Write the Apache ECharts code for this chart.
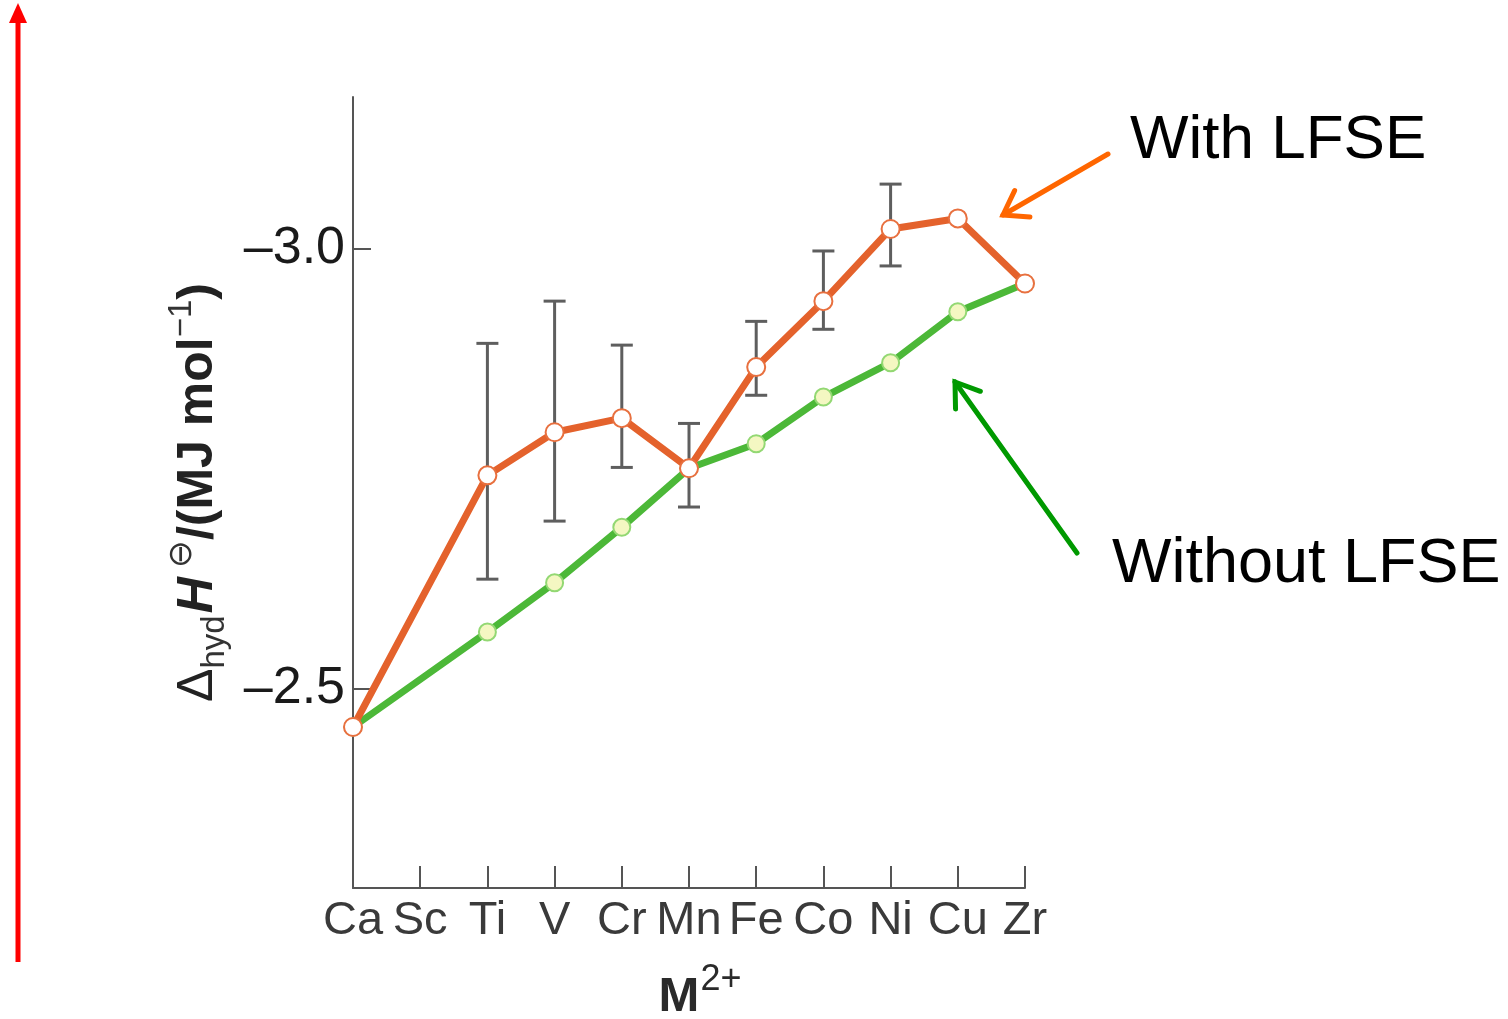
<!DOCTYPE html>
<html>
<head>
<meta charset="utf-8">
<script src="https://cdn.jsdelivr.net/npm/echarts@6/dist/echarts.min.js"></script>
<style>
html,body{margin:0;padding:0;background:#fff;}
#c{width:1508px;height:1019px;}
</style>
</head>
<body>
<div id="c"></div>
<script>
var categories = ['Ca','Sc','Ti','V','Cr','Mn','Fe','Co','Ni','Cu','Zr'];
var withLFSE = [-2.456, null, -2.742, -2.791, -2.807, -2.750, -2.865, -2.940, -3.022, -3.034, -2.960];
var withoutLFSE = [-2.456, null, -2.564, -2.620, -2.683, -2.750, -2.778, -2.831, -2.870, -2.928, -2.960];
var errLow = [null, null, -2.892, -2.940, -2.890, -2.801, -2.917, -2.997, -3.073, null, null];
var errHigh = [null, null, -2.624, -2.690, -2.751, -2.706, -2.833, -2.908, -2.980, null, null];
var yTicks = [-3.0, -2.5];
var yMin = -3.172, yMax = -2.273;

var errData = [];
for (var i = 0; i < categories.length; i++) {
  if (errLow[i] != null) errData.push([i, errLow[i], errHigh[i]]);
}

var chart = echarts.init(document.getElementById('c'));
var FONT = '"Liberation Sans", Arial, sans-serif';

function arrowLines(x1, y1, x2, y2, color, headLen, w) {
  var ang = Math.atan2(y2 - y1, x2 - x1);
  var a1 = ang + Math.PI - 0.6, a2 = ang + Math.PI + 0.6;
  var s = {stroke: color, lineWidth: w, lineCap: 'round'};
  return [
    {type: 'line', shape: {x1: x1, y1: y1, x2: x2, y2: y2}, style: s},
    {type: 'polyline', shape: {points: [[x2 + headLen * Math.cos(a1), y2 + headLen * Math.sin(a1)], [x2, y2], [x2 + headLen * Math.cos(a2), y2 + headLen * Math.sin(a2)]]}, style: {stroke: color, lineWidth: w, lineCap: 'round', lineJoin: 'miter', fill: null}}
  ];
}

var graphics = [];
graphics = graphics.concat(arrowLines(1108, 154, 1003, 215, '#ff6600', 27, 5));
graphics = graphics.concat(arrowLines(1077, 553, 955, 382, '#009900', 27, 5));
graphics.push({type: 'rect', shape: {x: 15.5, y: 20, width: 5, height: 942}, style: {fill: '#ff0000'}});
graphics.push({type: 'polygon', shape: {points: [[18, 3], [9, 23], [27, 23]]}, style: {fill: '#ff0000'}});
graphics.push({type: 'text', left: 1130, top: 110, style: {text: 'With LFSE', font: '62px ' + FONT, fill: '#000'}});
graphics.push({type: 'text', left: 1112, top: 533, style: {text: 'Without LFSE', font: '63px ' + FONT, fill: '#000'}});

var option = {
  animation: false,
  backgroundColor: '#fff',
  grid: {left: 353, right: 483, top: 97, bottom: 131, containLabel: false, outerBoundsMode: 'none'},
  xAxis: {
    type: 'category',
    data: categories,
    boundaryGap: false,
    axisLine: {lineStyle: {color: '#555', width: 2}},
    axisTick: {inside: true, length: 22, interval: 0, lineStyle: {color: '#555', width: 2}},
    axisLabel: {interval: 0, fontFamily: FONT, fontSize: 47, color: '#3a3a3a', margin: 10},
    splitLine: {show: false},
    name: '{m|M}{s|2+}',
    nameLocation: 'middle',
    nameGap: 74,
    nameTextStyle: {
      rich: {
        m: {fontFamily: FONT, fontSize: 49, fontWeight: 'bold', color: '#2a2a2a', lineHeight: 60, verticalAlign: 'bottom', padding: [0, 0, 0, 22]},
        s: {fontFamily: FONT, fontSize: 36, color: '#2a2a2a', lineHeight: 60, verticalAlign: 'top', padding: [0, 0, 0, 1]}
      }
    }
  },
  yAxis: {
    type: 'value',
    inverse: true,
    min: yMin,
    max: yMax,
    axisLine: {show: true, lineStyle: {color: '#555', width: 2}},
    axisTick: {show: true, inside: true, length: 18, customValues: yTicks, lineStyle: {color: '#555', width: 2}},
    axisLabel: {
      customValues: yTicks,
      fontFamily: FONT, fontSize: 52, color: '#1a1a1a', margin: 8,
      formatter: function (v) { return '\u2013' + Math.abs(v).toFixed(1); }
    },
    splitLine: {show: false},
    name: '{d|\u0394}{sub|hyd}{h|H}{sup| \u2296}{b|/(MJ mol}{sup|\u22121}{b|)}',
    nameLocation: 'middle',
    nameRotate: 90,
    nameGap: 122,
    nameTextStyle: {
      rich: {
        d: {fontFamily: FONT, fontSize: 50, color: '#222', lineHeight: 66, verticalAlign: 'middle'},
        sub: {fontFamily: FONT, fontSize: 33, color: '#333', lineHeight: 66, verticalAlign: 'bottom', padding: [0, 2, 0, 0]},
        h: {fontFamily: FONT, fontSize: 50, fontWeight: 'bold', fontStyle: 'italic', color: '#222', lineHeight: 66, verticalAlign: 'middle'},
        sup: {fontFamily: FONT, fontSize: 33, color: '#333', lineHeight: 66, verticalAlign: 'top'},
        b: {fontFamily: FONT, fontSize: 50, fontWeight: 'bold', color: '#222', lineHeight: 66, verticalAlign: 'middle'}
      }
    }
  },
  series: [
    {
      name: 'Error',
      type: 'custom',
      z: 1,
      data: errData,
      renderItem: function (params, api) {
        var x = api.value(0);
        var p1 = api.coord([x, api.value(1)]);
        var p2 = api.coord([x, api.value(2)]);
        var hw = 11;
        var st = {stroke: '#5e5e5e', lineWidth: 3};
        return {type: 'group', children: [
          {type: 'line', shape: {x1: p1[0], y1: p1[1], x2: p2[0], y2: p2[1]}, style: st},
          {type: 'line', shape: {x1: p1[0] - hw, y1: p1[1], x2: p1[0] + hw, y2: p1[1]}, style: st},
          {type: 'line', shape: {x1: p2[0] - hw, y1: p2[1], x2: p2[0] + hw, y2: p2[1]}, style: st}
        ]};
      }
    },
    {
      name: 'Without LFSE',
      type: 'line',
      z: 2,
      data: withoutLFSE,
      connectNulls: true,
      symbol: 'circle',
      symbolSize: 17,
      lineStyle: {color: '#4cb838', width: 7},
      itemStyle: {color: '#f4f7c2', borderColor: '#93d873', borderWidth: 2}
    },
    {
      name: 'With LFSE',
      type: 'line',
      z: 3,
      data: withLFSE,
      connectNulls: true,
      symbol: 'circle',
      symbolSize: 18,
      lineStyle: {color: '#e4622c', width: 7},
      itemStyle: {color: '#ffffff', borderColor: '#e8703f', borderWidth: 2}
    }
  ],
  graphic: graphics
};
chart.setOption(option);
</script>
</body>
</html>
